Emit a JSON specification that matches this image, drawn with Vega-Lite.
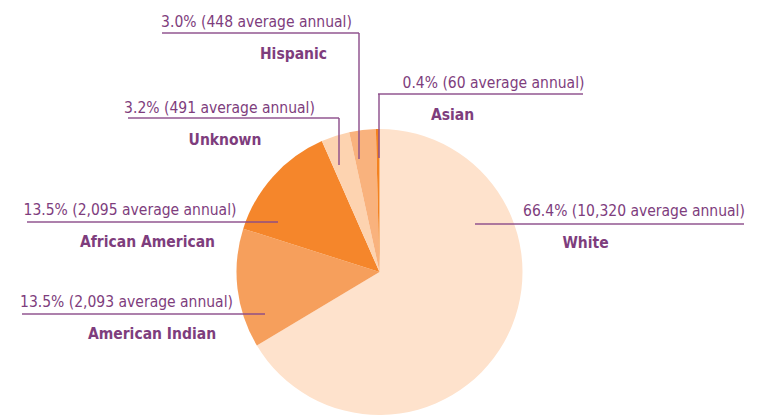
{
  "$schema": "https://vega.github.io/schema/vega-lite/v6.json",
  "width": 759,
  "height": 286,
  "autosize": {"type": "none"},
  "padding": {"top": 129, "left": 0, "right": 0, "bottom": 0},
  "background": "white",
  "config": {"view": {"stroke": null}},
  "data": {
    "values": [
      {"group": "White", "share": 66.4, "annual": 10320, "label": "66.4% (10,320 average annual)"},
      {"group": "American Indian", "share": 13.5, "annual": 2093, "label": "13.5% (2,093 average annual)"},
      {"group": "African American", "share": 13.5, "annual": 2095, "label": "13.5% (2,095 average annual)"},
      {"group": "Unknown", "share": 3.2, "annual": 491, "label": "3.2% (491 average annual)"},
      {"group": "Hispanic", "share": 3.0, "annual": 448, "label": "3.0% (448 average annual)"},
      {"group": "Asian", "share": 0.4, "annual": 60, "label": "0.4% (60 average annual)"}
    ]
  },
  "transform": [{"window": [{"op": "row_number", "as": "seq"}]}],
  "layer": [
    {
      "mark": {"type": "arc"},
      "encoding": {
        "theta": {"field": "share", "type": "quantitative", "stack": true},
        "order": {"field": "seq", "type": "quantitative"},
        "color": {
          "field": "group",
          "type": "nominal",
          "scale": {
            "domain": ["White", "American Indian", "African American", "Unknown", "Hispanic", "Asian"],
            "range": ["#FEE2CC", "#F69F5C", "#F5862B", "#FDD3B0", "#F9B27D", "#F4821F"]
          },
          "legend": null
        }
      }
    },
    {
      "mark": {"type": "tick", "orient": "horizontal", "thickness": 2, "color": "#8A4A89"},
      "encoding": {
        "x": {"field": "seq", "type": "quantitative", "axis": null,
              "scale": {"domain": [1, 2, 3, 4, 5, 6], "range": [609.5, 143.5, 152.5, 233.5, 260.5, 480.5], "nice": false, "zero": false}},
        "y": {"field": "seq", "type": "quantitative", "axis": null,
              "scale": {"domain": [1, 2, 3, 4, 5, 6], "range": [95, 185, 93, -11, -96, -35], "nice": false, "zero": false}},
        "size": {"field": "seq", "type": "quantitative", "legend": null,
                 "scale": {"domain": [1, 2, 3, 4, 5, 6], "range": [269, 243, 251, 211, 197, 205], "nice": false, "zero": false}}
      }
    },
    {
      "transform": [{"filter": "datum.seq >= 4"}],
      "mark": {"type": "tick", "orient": "vertical", "thickness": 2, "color": "#8A4A89"},
      "encoding": {
        "x": {"field": "seq", "type": "quantitative", "axis": null,
              "scale": {"domain": [4, 5, 6], "range": [339, 359, 379], "nice": false, "zero": false}},
        "y": {"field": "seq", "type": "quantitative", "axis": null,
              "scale": {"domain": [4, 5, 6], "range": [12.5, -33, -3], "nice": false, "zero": false}},
        "size": {"field": "seq", "type": "quantitative", "legend": null,
                 "scale": {"domain": [4, 5, 6], "range": [47, 126, 64], "nice": false, "zero": false}}
      }
    },
    {
      "mark": {"type": "text", "align": "center", "baseline": "alphabetic",
               "font": "DejaVu Sans Condensed, DejaVu Sans, sans-serif",
               "fontSize": 15.5, "color": "#7E3D7D"},
      "encoding": {
        "text": {"field": "label", "type": "nominal"},
        "x": {"field": "seq", "type": "quantitative", "axis": null,
              "scale": {"domain": [1, 2, 3, 4, 5, 6], "range": [634, 126.5, 130, 219.5, 256.5, 493.5], "nice": false, "zero": false}},
        "y": {"field": "seq", "type": "quantitative", "axis": null,
              "scale": {"domain": [1, 2, 3, 4, 5, 6], "range": [87, 178, 86, -16, -102, -41], "nice": false, "zero": false}}
      }
    },
    {
      "mark": {"type": "text", "align": "center", "baseline": "alphabetic",
               "font": "DejaVu Sans Condensed, DejaVu Sans, sans-serif",
               "fontSize": 15.5, "fontWeight": "bold", "color": "#7E3D7D"},
      "encoding": {
        "text": {"field": "group", "type": "nominal"},
        "x": {"field": "seq", "type": "quantitative", "axis": null,
              "scale": {"domain": [1, 2, 3, 4, 5, 6], "range": [585.5, 152, 147.5, 225, 293.5, 452.5], "nice": false, "zero": false}},
        "y": {"field": "seq", "type": "quantitative", "axis": null,
              "scale": {"domain": [1, 2, 3, 4, 5, 6], "range": [119, 210, 118, 16, -70, -9], "nice": false, "zero": false}}
      }
    }
  ],
  "resolve": {"scale": {"x": "independent", "y": "independent", "size": "independent"}}
}
